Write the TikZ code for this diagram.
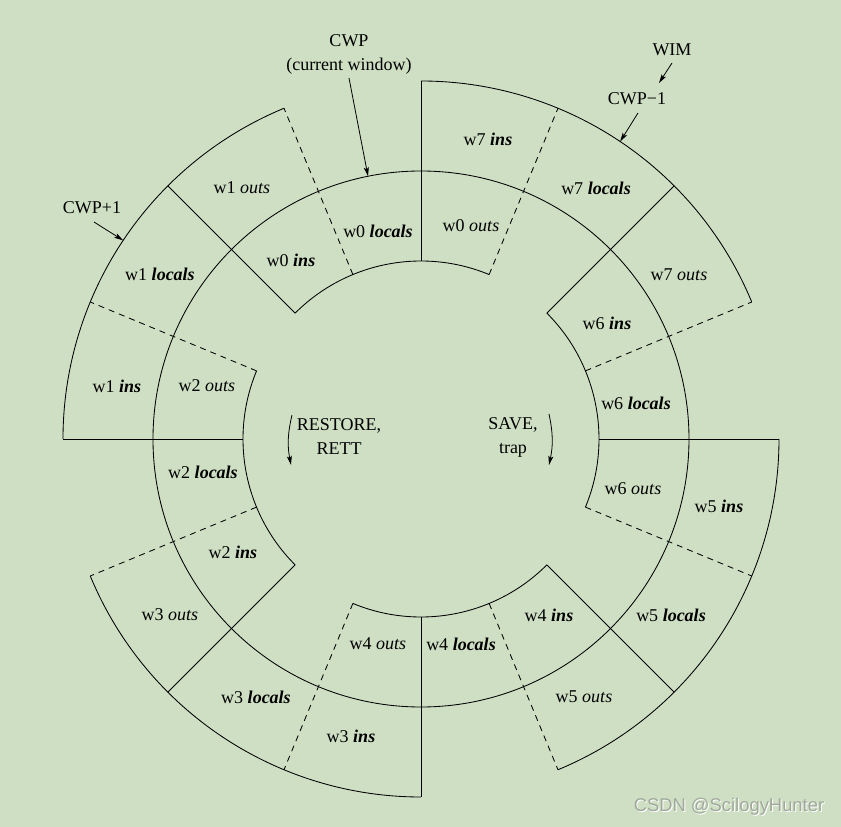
\documentclass[tikz,border=0pt]{standalone}
\usepackage{fontspec}
\setmainfont{Liberation Serif}
\newfontfamily\wmfont{Liberation Sans}
\usetikzlibrary{arrows.meta}
\definecolor{bgcol}{RGB}{206,223,195}
\definecolor{wmcol}{RGB}{160,168,155}
\begin{document}
\begin{tikzpicture}[x=1pt,y=1pt,line width=0.85pt,
  lbl/.style={inner sep=0pt,font=\fontsize{18}{24}\selectfont,align=center},
  dashseg/.style={dash pattern=on 6pt off 5pt},
  ptr/.style={line width=0.8pt,-{Stealth[length=9pt,width=5pt,inset=2pt]}},
  bi/.style={font=\bfseries\itshape}]
\fill[bgcol] (-421,-388) rectangle (420,439);
\useasboundingbox (-421,-388) rectangle (420,439);
% rings
\draw (0,0) circle[radius=268];
\foreach \k in {0,1,2,3} {
  \draw ({-22.5+90*\k}:178) arc[start angle={-22.5+90*\k}, end angle={45+90*\k}, radius=178];
  \draw ({22.5+90*\k}:358) arc[start angle={22.5+90*\k}, end angle={90+90*\k}, radius=358];
}
\foreach \k in {0,...,7} {
  \draw ({45*\k}:178) -- ({45*\k}:358);
  \draw[dashseg] ({22.5+45*\k}:178) -- ({22.5+45*\k}:358);
}
% labels
\node[lbl] (w0l) at (-43,208) {w0 \textbf{\textit{locals}}};
\node[lbl] (w0o) at (50,213) {w0 \textit{outs}};
\node[lbl] (w7i) at (67,300) {w7 \textbf{\textit{ins}}};
\node[lbl] (w7l) at (175,251) {w7 \textbf{\textit{locals}}};
\node[lbl] (w7o) at (258,164) {w7 \textit{outs}};
\node[lbl] (w6i) at (186,116) {w6 \textbf{\textit{ins}}};
\node[lbl] (w6l) at (215,36) {w6 \textbf{\textit{locals}}};
\node[lbl] (w6o) at (212,-50) {w6 \textit{outs}};
\node[lbl] (w5i) at (298,-67) {w5 \textbf{\textit{ins}}};
\node[lbl] (w5l) at (250,-176) {w5 \textbf{\textit{locals}}};
\node[lbl] (w5o) at (163,-258) {w5 \textit{outs}};
\node[lbl] (w4i) at (128,-176) {w4 \textbf{\textit{ins}}};
\node[lbl] (w4l) at (40,-205) {w4 \textbf{\textit{locals}}};
\node[lbl] (w4o) at (-43,-205) {w4 \textit{outs}};
\node[lbl] (w3i) at (-70,-297) {w3 \textbf{\textit{ins}}};
\node[lbl] (w3l) at (-165,-258) {w3 \textbf{\textit{locals}}};
\node[lbl] (w3o) at (-251,-176) {w3 \textit{outs}};
\node[lbl] (w2i) at (-188,-113) {w2 \textbf{\textit{ins}}};
\node[lbl] (w2l) at (-218,-33) {w2 \textbf{\textit{locals}}};
\node[lbl] (w2o) at (-214,53) {w2 \textit{outs}};
\node[lbl] (w1i) at (-304,53) {w1 \textbf{\textit{ins}}};
\node[lbl] (w1l) at (-261,165) {w1 \textbf{\textit{locals}}};
\node[lbl] (w1o) at (-179,251) {w1 \textit{outs}};
\node[lbl] (w0i) at (-130,179) {w0 \textbf{\textit{ins}}};
% pointers
\node[lbl] (cwp) at (-72,385) {CWP\\(current window)};
\coordinate (cwpa) at (-72,361);
\coordinate (cwpb) at (101.4:268);
\draw[ptr] (cwpa) -- (cwpb);
\node[lbl] (wim) at (251,389) {WIM};
\node[lbl] (cwpm) at (216,340) {CWP−1};
\coordinate (wima) at (251,376);
\coordinate (wimb) at (238,356);
\draw[ptr] (wima) -- (wimb);
\coordinate (cwpma) at (217,326);
\coordinate (cwpmb) at (56.2:358);
\draw[ptr] (cwpma) -- (cwpmb);
\node[lbl] (cwpp) at (-329,231) {CWP+1};
\coordinate (cwppa) at (-327,217);
\coordinate (cwppb) at (146.3:358);
\draw[ptr] (cwppa) -- (cwppb);
% rotation
\node[lbl] (rest) at (-82,2) {RESTORE,\\RETT};
\coordinate (ra) at (-129,24);
\coordinate (rb) at (-130,-26);
\draw[ptr] (ra) to[bend right=12] (rb);
\node[lbl] (save) at (92,2) {SAVE,\\trap};
\coordinate (sa) at (128,25);
\coordinate (sb) at (128,-26);
\draw[ptr] (sa) to[bend left=12] (sb);
% watermark
\node[inner sep=0pt,text=white] (wm2) at (309,-369) {\wmfont\fontsize{18.4}{20}\selectfont CSDN @ScilogyHunter};
\node[inner sep=0pt,text=wmcol] (wm) at (308,-368) {\wmfont\fontsize{18.4}{20}\selectfont CSDN @ScilogyHunter};
\end{tikzpicture}
\end{document}
